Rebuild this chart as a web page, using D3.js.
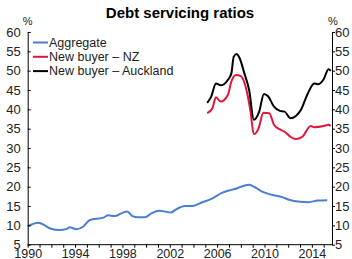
<!DOCTYPE html>
<html>
<head>
<meta charset="utf-8">
<script src="https://cdn.jsdelivr.net/npm/d3@7"></script>
<style>
  body { margin: 0; background: #fff; }
  svg { display: block; font-family: "Liberation Sans", Arial, sans-serif; }
  .axis text { font-size: 13px; fill: #222; }
  .x-axis text { font-size: 12.5px; }
  .axis path, .axis line { stroke: #000; }
</style>
</head>
<body>
<div id="chart"></div>
<script>
// ---- data ----
const yTicks = [5, 10, 15, 20, 25, 30, 35, 40, 45, 50, 55, 60];
const xLabelYears = [1990, 1994, 1998, 2002, 2006, 2010, 2014];
const seriesNames = ["Aggregate", "New buyer \u2013 NZ", "New buyer \u2013 Auckland"];
const seriesColors = ["#4a7fd0", "#e0173a", "#000000"];

const aggYears = [1990, 1990.9, 1991.9, 1992.7, 1993.3, 1993.56, 1994.1, 1994.7, 1995.25, 1995.8,
  1996.4, 1996.8, 1997.35, 1997.9, 1998.4, 1998.85, 1999.3, 1999.9, 2000.45, 2001.1,
  2001.7, 2002.1, 2002.5, 2003.3, 2003.9, 2004.7, 2005.6, 2006.4, 2007, 2007.7,
  2008.2, 2008.7, 2009.1, 2009.8, 2010.6, 2011.5, 2012, 2013, 2013.7, 2014.5, 2015.3];
const aggValues = [9.8, 10.7, 9.2, 8.8, 9.1, 9.5, 9.0, 9.7, 11.4, 11.7,
  12.0, 12.6, 12.4, 13.1, 13.6, 12.4, 12.1, 12.1, 13.1, 13.8,
  13.5, 13.3, 14.1, 15.0, 15.0, 15.9, 17.0, 18.4, 19.0, 19.6,
  20.2, 20.5, 20.0, 18.7, 17.9, 17.3, 16.7, 16.1, 16.0, 16.4, 16.5];

const nzYears = [2005.16, 2005.6, 2005.9, 2006.3, 2006.9, 2007.2, 2007.6, 2008, 2008.4, 2008.8,
  2009.1, 2009.5, 2009.9, 2010.4, 2010.8, 2011.3, 2011.7, 2012.2, 2012.65, 2013.2,
  2013.9, 2014.2, 2015, 2015.4, 2015.6];
const nzValues = [39.0, 40.3, 43.1, 42.0, 43.7, 47.2, 48.9, 48.6, 45.9, 39.8,
  33.6, 35.1, 39.1, 39.0, 36.0, 34.8, 34.2, 32.9, 32.3, 32.9,
  35.7, 35.4, 35.7, 36.0, 35.7];

const aklYears = [2005.16, 2005.5, 2005.9, 2006.3, 2006.9, 2007.2, 2007.4, 2007.65, 2007.9, 2008.3,
  2008.7, 2009.1, 2009.55, 2009.95, 2010.3, 2010.8, 2011.3, 2011.7, 2012.2, 2012.65,
  2013.07, 2013.6, 2014.2, 2014.5, 2015, 2015.4, 2015.6];
const aklValues = [41.7, 43.3, 46.7, 46.2, 47.6, 49.3, 53.6, 54.3, 53.2, 49.3,
  45.0, 37.3, 39.4, 44.0, 43.4, 40.7, 39.6, 39.4, 37.7, 38.3,
  39.8, 43.7, 46.7, 46.5, 47.8, 50.4, 50.0];

// ---- set up svg ----
const width = 352;
const height = 259;
const margin = { top: 32, right: 20, bottom: 14.3, left: 27.7 };

const svg = d3.select("#chart")
  .append("svg")
  .attr("width", width)
  .attr("height", height);

const xScale = d3.scaleLinear()
  .domain([1990, 2015.7])
  .range([margin.left, width - margin.right]);

const yScale = d3.scaleLinear()
  .domain([5, 60])
  .range([height - margin.bottom, margin.top]);

// ---- lines ----
const line = d3.line()
  .curve(d3.curveMonotoneX)
  .x((d) => xScale(d[0]))
  .y((d) => yScale(d[1]));

const series = [
  d3.zip(aggYears, aggValues),
  d3.zip(nzYears, nzValues),
  d3.zip(aklYears, aklValues)
];

svg.selectAll("path.series")
  .data(series)
  .enter()
  .append("path")
  .attr("class", "series")
  .attr("fill", "none")
  .attr("stroke", (d, i) => seriesColors[i])
  .attr("stroke-width", 2)
  .attr("stroke-linejoin", "round")
  .attr("d", line);

// ---- axes ----
const xAxis = d3.axisBottom(xScale)
  .tickValues(d3.range(1990, 2016))
  .tickSizeInner(3)
  .tickSizeOuter(0)
  .tickPadding(1)
  .tickFormat((d) => (xLabelYears.includes(d) ? d : ""));

svg.append("g")
  .attr("class", "axis x-axis")
  .attr("transform", `translate(0,${yScale(5)})`)
  .call(xAxis)
  .select(".domain")
  .attr("d", `M${xScale(1990)},0H${xScale(2015.7)}`);

const yAxisL = d3.axisLeft(yScale)
  .tickValues(yTicks)
  .tickSizeInner(-3)
  .tickSizeOuter(0)
  .tickPadding(7);

svg.append("g")
  .attr("class", "axis y-axis")
  .attr("transform", `translate(${xScale(1990)},0)`)
  .call(yAxisL);

const yAxisR = d3.axisRight(yScale)
  .tickValues(yTicks)
  .tickSizeInner(3)
  .tickSizeOuter(0)
  .tickPadding(0);

svg.append("g")
  .attr("class", "axis y-axis-right")
  .attr("transform", `translate(${xScale(2015.7)},0)`)
  .call(yAxisR);

// % units
svg.append("text")
  .attr("x", xScale(1990))
  .attr("y", 25)
  .attr("text-anchor", "middle")
  .style("font-size", "11px")
  .style("fill", "#222")
  .text("%");
svg.append("text")
  .attr("x", xScale(2015.7) + 1)
  .attr("y", 25)
  .attr("text-anchor", "middle")
  .style("font-size", "11px")
  .style("fill", "#222")
  .text("%");

// ---- title ----
svg.append("text")
  .attr("x", 180)
  .attr("y", 18)
  .attr("text-anchor", "middle")
  .style("font-size", "15px")
  .style("font-weight", "bold")
  .text("Debt servicing ratios");

// ---- legend ----
const legend = svg.selectAll("g.legend")
  .data(seriesNames)
  .enter()
  .append("g")
  .attr("class", "legend")
  .attr("transform", (d, i) => `translate(33,${42.5 + i * 14.3})`);

legend.append("line")
  .attr("x1", 0)
  .attr("x2", 15)
  .attr("stroke", (d, i) => seriesColors[i])
  .attr("stroke-width", 2);

legend.append("text")
  .attr("x", 16)
  .attr("dy", "0.35em")
  .style("font-size", "12.5px")
  .style("fill", "#222")
  .text((d) => d);
</script>
</body>
</html>
